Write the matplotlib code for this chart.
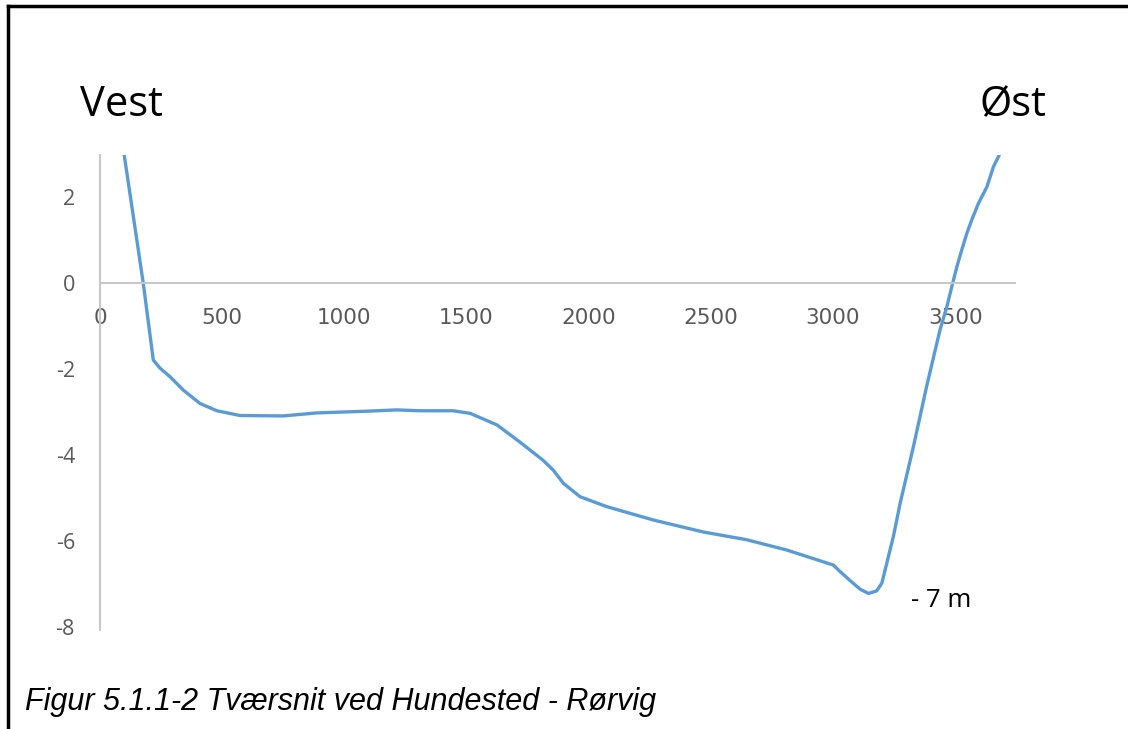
import matplotlib
matplotlib.use("Agg")
import matplotlib.pyplot as plt
from matplotlib.lines import Line2D

# Data (distance in m, depth in m)
distance = [98, 177, 211, 218, 246, 287, 341, 409, 478, 573, 750, 887, 1092, 1214, 1310,
            1445, 1515, 1625, 1719, 1813, 1855, 1897, 1965, 2074, 2264, 2469, 2647,
            2811, 3002, 3029, 3070, 3111, 3145, 3179, 3200, 3220, 3247, 3275, 3329,
            3383, 3438, 3466, 3490, 3507, 3527, 3548, 3568, 3595, 3630, 3657, 3684]
depth = [3.02, 0.0, -1.48, -1.79, -1.98, -2.18, -2.49, -2.80, -2.97, -3.08, -3.09, -3.02,
         -2.98, -2.95, -2.97, -2.97, -3.03, -3.30, -3.70, -4.12, -4.35, -4.66, -4.97,
         -5.20, -5.51, -5.79, -5.97, -6.21, -6.56, -6.71, -6.92, -7.12, -7.22, -7.16,
         -6.98, -6.52, -5.90, -5.12, -3.81, -2.41, -1.09, -0.55, 0.0, 0.38, 0.77, 1.16,
         1.47, 1.85, 2.24, 2.71, 3.02]
x_ticks = [0, 500, 1000, 1500, 2000, 2500, 3000, 3500]
y_ticks = [-8, -6, -4, -2, 0, 2]

W, H = 1128, 729
fig = plt.figure(figsize=(W / 100, H / 100), dpi=100)
ax = fig.add_axes([100 / W, 1 - 630 / H, 915 / W, 475 / H])

ax.plot(distance, depth, color="#5B9BD5", lw=2.4, solid_capstyle="round",
        solid_joinstyle="round", clip_on=True)
ax.set_xlim(0, 3745)
ax.set_ylim(-8.07, 2.98)

ax.set_xticks(x_ticks)
ax.set_yticks(y_ticks)
ax.set_xticklabels([str(v) for v in x_ticks])
ax.set_yticklabels([str(v) for v in y_ticks])
ax.tick_params(axis="both", length=0, labelsize=15.5, labelcolor="#595959")
ax.tick_params(axis="x", pad=18)
ax.tick_params(axis="y", pad=18)
for lab in ax.get_xticklabels() + ax.get_yticklabels():
    lab.set_fontfamily("Open Sans")

for s in ["top", "right"]:
    ax.spines[s].set_visible(False)
ax.spines["bottom"].set_position(("data", 0))
ax.spines["bottom"].set_color("#C8C8C8")
ax.spines["bottom"].set_linewidth(1.5)
ax.spines["left"].set_color("#C8C8C8")
ax.spines["left"].set_linewidth(1.5)

# Direction labels
fig.text(80 / W, 1 - 116 / H, "Vest", fontsize=30, family="Open Sans", color="black",
         ha="left", va="baseline")
fig.text(1047 / W, 1 - 116 / H, "Øst", fontsize=30, family="Open Sans", color="black",
         ha="right", va="baseline")
fig.text(911 / W, 1 - 607 / H, "- 7 m", fontsize=18.5, family="Open Sans", color="black",
         ha="left", va="baseline")

# Caption
fig.text(25 / W, 1 - 710 / H, "Figur 5.1.1-2 Tværsnit ved Hundested - Rørvig",
         fontsize=22, family="Liberation Sans", style="italic", color="black",
         ha="left", va="baseline")

# Page border (left and top)
fig.add_artist(Line2D([8 / W, 8 / W], [0, 1 - 6 / H], transform=fig.transFigure,
                      color="black", lw=2.5))
fig.add_artist(Line2D([8 / W, 1], [1 - 6 / H, 1 - 6 / H], transform=fig.transFigure,
                      color="black", lw=2.5))

fig.savefig("out.png", dpi=100)
